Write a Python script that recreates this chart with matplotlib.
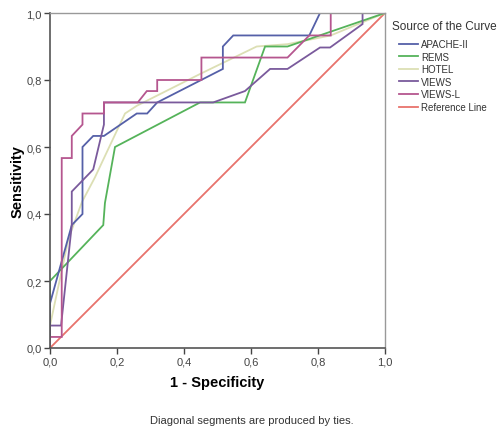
import matplotlib
matplotlib.use("Agg")
import matplotlib.pyplot as plt

plt.rcParams["font.family"] = ["Liberation Sans", "DejaVu Sans"]

# ============================================================
# Data (ROC points)
# ============================================================

apache_fpr = [0.0, 0.0, 0.065, 0.097, 0.097, 0.129, 0.161, 0.259, 0.29, 0.32,
              0.516, 0.516, 0.547, 0.774, 0.806, 1.0]
apache_tpr = [0.0, 0.133, 0.367, 0.40, 0.60, 0.633, 0.633, 0.70, 0.70, 0.733,
              0.833, 0.90, 0.933, 0.933, 1.0, 1.0]

rems_fpr = [0.0, 0.0, 0.159, 0.164, 0.194, 0.448, 0.582, 0.642, 0.709, 1.0]
rems_tpr = [0.0, 0.20, 0.367, 0.433, 0.60, 0.733, 0.733, 0.90, 0.90, 1.0]

hotel_fpr = [0.0, 0.0, 0.055, 0.095, 0.134, 0.204, 0.224, 0.259, 0.448, 0.617,
             0.709, 0.838, 1.0]
hotel_tpr = [0.0, 0.067, 0.325, 0.435, 0.509, 0.658, 0.70, 0.723, 0.818, 0.90,
             0.907, 0.933, 1.0]

views_fpr = [0.0, 0.0, 0.033, 0.065, 0.065, 0.097, 0.129, 0.161, 0.161, 0.487,
             0.582, 0.657, 0.709, 0.806, 0.836, 0.933, 0.933, 1.0]
views_tpr = [0.0, 0.067, 0.067, 0.367, 0.467, 0.50, 0.533, 0.667, 0.733, 0.733,
             0.767, 0.833, 0.833, 0.897, 0.897, 0.967, 1.0, 1.0]

viewsl_fpr = [0.0, 0.0, 0.035, 0.035, 0.065, 0.065, 0.097, 0.097, 0.161, 0.161,
              0.262, 0.289, 0.32, 0.32, 0.452, 0.452, 0.709, 0.774, 0.838,
              0.838, 1.0]
viewsl_tpr = [0.0, 0.033, 0.033, 0.567, 0.567, 0.633, 0.667, 0.70, 0.70, 0.733,
              0.733, 0.767, 0.767, 0.80, 0.80, 0.867, 0.867, 0.933, 0.933,
              1.0, 1.0]

ref_fpr = [0.0, 1.0]
ref_tpr = [0.0, 1.0]

curve_names = ["APACHE-II", "REMS", "HOTEL", "VIEWS", "VIEWS-L", "Reference Line"]
curve_colors = ["#5560a8", "#55b35a", "#dcdfb4", "#7a5a9c", "#b5568f", "#e8736c"]

tick_values = [0.0, 0.2, 0.4, 0.6, 0.8, 1.0]
tick_labels = ["0,0", "0,2", "0,4", "0,6", "0,8", "1,0"]

# ============================================================
# Figure
# ============================================================

fig = plt.figure(figsize=(4.97, 4.27), dpi=100)
ax = fig.add_axes([50 / 497, 1 - 349 / 427, 335 / 497, 335 / 427])

curves = [
    (apache_fpr, apache_tpr),
    (rems_fpr, rems_tpr),
    (hotel_fpr, hotel_tpr),
    (views_fpr, views_tpr),
    (viewsl_fpr, viewsl_tpr),
    (ref_fpr, ref_tpr),
]

# draw reference first so curves sit on top, but keep legend order
order = [5, 2, 1, 0, 3, 4]
handles = {}
for i in order:
    x, y = curves[i]
    (h,) = ax.plot(x, y, color=curve_colors[i], lw=1.3, solid_joinstyle="miter")
    handles[i] = h

ax.set_xlim(0, 1)
ax.set_ylim(0, 1)
ax.set_xticks(tick_values)
ax.set_yticks(tick_values)
ax.set_xticklabels(tick_labels)
ax.set_yticklabels(tick_labels)
ax.tick_params(direction="out", length=4, width=1, colors="#444444",
               labelsize=8, labelcolor="#444444", pad=2)

for side in ["left", "bottom"]:
    ax.spines[side].set_color("#555555")
    ax.spines[side].set_linewidth(1.2)
for side in ["top", "right"]:
    ax.spines[side].set_color("#999999")
    ax.spines[side].set_linewidth(1.0)

ax.set_xlabel("1 - Specificity", fontsize=10.5, fontweight="bold", labelpad=6)
ax.set_ylabel("Sensitivity", fontsize=10.5, fontweight="bold", labelpad=1)

# ---- legend (title drawn separately so entries can be indented) ----

fig.text(392 / 497, 1 - 27 / 427, "Source of the Curve", ha="left",
         va="center", fontsize=8.5, color="#333333")

leg = ax.legend([handles[i] for i in range(6)], curve_names,
                loc="upper left", bbox_to_anchor=(399 / 497, 1 - 40 / 427),
                bbox_transform=fig.transFigure, frameon=False, fontsize=7,
                handlelength=2.0, handletextpad=0.3, labelspacing=0.27,
                borderaxespad=0, borderpad=0)
for t in leg.get_texts():
    t.set_color("#333333")

fig.text(252 / 497, 1 - 421 / 427, "Diagonal segments are produced by ties.",
         ha="center", va="center", fontsize=8, color="#333333")

fig.savefig("out.png", dpi=100)
